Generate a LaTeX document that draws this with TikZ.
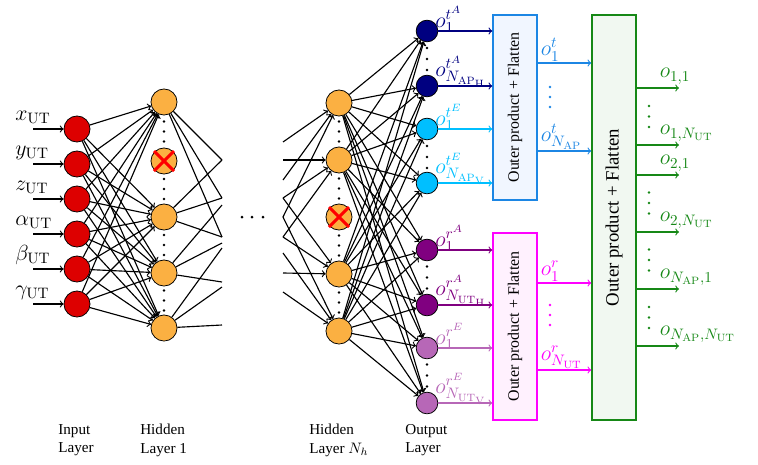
\documentclass[tikz,border=0pt]{standalone}
\usepackage[no-math]{fontspec}
\setmainfont{Liberation Serif}
\usetikzlibrary{calc}

\definecolor{inred}{RGB}{221,0,0}
\definecolor{hidorange}{RGB}{251,176,66}
\definecolor{tAcol}{RGB}{0,0,128}
\definecolor{tEcol}{RGB}{0,191,255}
\definecolor{rAcol}{RGB}{128,0,128}
\definecolor{rEcol}{RGB}{183,103,183}
\definecolor{tbox}{RGB}{28,134,228}
\definecolor{tboxfill}{RGB}{241,246,255}
\definecolor{rbox}{RGB}{255,0,255}
\definecolor{rboxfill}{RGB}{255,241,254}
\definecolor{gbox}{RGB}{22,136,22}
\definecolor{gboxfill}{RGB}{241,248,241}

\newcommand{\lblsize}{\fontsize{13.8}{16}\selectfont}

\begin{document}
\begin{tikzpicture}[x=0.66pt, y=-0.66pt,
    every node/.style={align=center},
    neuron/.style={circle, draw, line width=0.5pt, minimum size=17.2pt, inner sep=0pt},
    outneuron/.style={circle, draw, line width=0.5pt, minimum size=14.3pt, inner sep=0pt},
    link/.style={->, line width=0.75pt},
    stub/.style={line width=0.75pt},
    flatbox/.style={draw, line width=1pt, minimum width=29pt, inner sep=0pt},
    dropx/.style={red, line width=2pt},
    olabel/.style={anchor=south west, inner sep=0pt}]
    \useasboundingbox (0,0) rectangle (758,464);

    % Input layer
    \node[neuron, fill=inred] (in1) at (77,129) {};
    \node[neuron, fill=inred] (in2) at (77,164) {};
    \node[neuron, fill=inred] (in3) at (77,199) {};
    \node[neuron, fill=inred] (in4) at (77,234) {};
    \node[neuron, fill=inred] (in5) at (77,269) {};
    \node[neuron, fill=inred] (in6) at (77,304) {};

    % Inputs and their labels
    \foreach \i/\yy/\lab in {1/129/x, 2/164/y, 3/199/z, 4/234/\alpha, 5/269/\beta, 6/304/\gamma} {
        \coordinate (src\i) at (33,\yy);
        \draw[link] (src\i) -- (in\i);
        \node[anchor=base west, inner sep=0pt] (inlab\i) at (15,\yy-9) {\lblsize $\lab_{\mathrm{UT}}$};
    }

    % Hidden layer 1 (second neuron dropped)
    \node[neuron, fill=hidorange] (hA1) at (164,102) {};
    \node[neuron, fill=hidorange] (hA2) at (164,161) {};
    \node[neuron, fill=hidorange] (hA3) at (164,217) {};
    \node[neuron, fill=hidorange] (hA4) at (164,273) {};
    \node[neuron, fill=hidorange] (hA5) at (164,328) {};

    % Hidden layer N_h (third neuron dropped)
    \node[neuron, fill=hidorange] (hN1) at (339,103) {};
    \node[neuron, fill=hidorange] (hN2) at (339,160) {};
    \node[neuron, fill=hidorange] (hN3) at (339,217) {};
    \node[neuron, fill=hidorange] (hN4) at (339,274) {};
    \node[neuron, fill=hidorange] (hN5) at (339,331) {};

    % Output layer
    \node[outneuron, fill=tAcol] (otA1) at (427,31) {};
    \node[outneuron, fill=tAcol] (otAN) at (427,86) {};
    \node[outneuron, fill=tEcol] (otE1) at (427,129) {};
    \node[outneuron, fill=tEcol] (otEN) at (427,183) {};
    \node[outneuron, fill=rAcol] (orA1) at (427,250) {};
    \node[outneuron, fill=rAcol] (orAN) at (427,305) {};
    \node[outneuron, fill=rEcol] (orE1) at (427,348) {};
    \node[outneuron, fill=rEcol] (orEN) at (427,403) {};

    % Output labels
    \node[olabel, text=tAcol] at ($(otA1)+(8,2)$) {\lblsize $o_1^{t^A}$};
    \node[olabel, text=tAcol] at ($(otAN)+(8,2)$) {\lblsize $o_{N_{\mathrm{AP}_\mathrm{H}}}^{t^A}$};
    \node[olabel, text=tEcol] at ($(otE1)+(8,2)$) {\lblsize $o_1^{t^E}$};
    \node[olabel, text=tEcol] at ($(otEN)+(8,2)$) {\lblsize $o_{N_{\mathrm{AP}_\mathrm{V}}}^{t^E}$};
    \node[olabel, text=rAcol] at ($(orA1)+(8,2)$) {\lblsize $o_1^{r^A}$};
    \node[olabel, text=rAcol] at ($(orAN)+(8,2)$) {\lblsize $o_{N_{\mathrm{UT}_\mathrm{H}}}^{r^A}$};
    \node[olabel, text=rEcol] at ($(orE1)+(8,2)$) {\lblsize $o_1^{r^E}$};
    \node[olabel, text=rEcol] at ($(orEN)+(8,2)$) {\lblsize $o_{N_{\mathrm{UT}_\mathrm{V}}}^{r^E}$};

    % Input -> hidden layer 1
    \foreach \i in {1,...,6}
        \foreach \j in {1,3,4,5}
            \draw[link] (in\i) -- (hA\j);

    % Hidden layer 1 -> next layer (cut off)
    \foreach \j/\a/\b/\c in {1/160/198/237, 3/160/198/237, 4/205/243/282, 5/248/287/325} {
        \draw[stub] (hA\j) -- (222,\a);
        \draw[stub] (hA\j) -- (222,\b);
        \draw[stub] (hA\j) -- (222,\c);
    }

    % Previous layer -> hidden layer N_h (cut off)
    \foreach \j/\a/\b/\c in {1/142/180/217, 2/160/198/237, 4/198/237/273, 5/217/253/292} {
        \draw[link] (283,\a) -- (hN\j);
        \draw[link] (283,\b) -- (hN\j);
        \draw[link] (283,\c) -- (hN\j);
    }

    % Hidden layer N_h -> output layer
    \foreach \j in {1,2,4,5}
        \foreach \o in {otA1,otAN,otE1,otEN,orA1,orAN,orE1,orEN}
            \draw[link] (hN\j) -- (\o);

    % Dropout crosses
    \draw[dropx] (hA2.center) ++(-10,-10) -- ++(20,20) ++(-20,0) -- ++(20,-20);
    \draw[dropx] (hN3.center) ++(-10,-10) -- ++(20,20) ++(-20,0) -- ++(20,-20);

    % Vertical dots
    \foreach \yy in {131.5,189,245,300.5}
        \foreach \d in {-10,0,10}
            \fill (164,\yy+\d) circle[radius=1.4];
    \foreach \yy in {131.5,188.5,245.5,302.5}
        \foreach \d in {-10,0,10}
            \fill (339,\yy+\d) circle[radius=1.4];
    \foreach \yy in {59,157,277.5,375.5}
        \foreach \d in {-11,0,11}
            \fill (427,\yy+\d) circle[radius=1.4];
    \foreach \xx in {242,252,263}
        \fill (\xx,217) circle[radius=1.5];

    % Outer product + flatten boxes
    \node[flatbox, draw=tbox, fill=tboxfill, minimum height=122.1pt] (tflat) at (515,107.5) {\rotatebox{90}{\fontsize{10.5}{12}\selectfont Outer product + Flatten}};
    \node[flatbox, draw=rbox, fill=rboxfill, minimum height=123.4pt] (rflat) at (515,326.5) {\rotatebox{90}{\fontsize{10.5}{12}\selectfont Outer product + Flatten}};
    \node[flatbox, draw=gbox, fill=gboxfill, minimum height=267.3pt] (gflat) at (614,217.5) {\rotatebox{90}{\fontsize{12.4}{14}\selectfont Outer product + Flatten}};

    % Output layer -> boxes
    \foreach \o in {otA1,otAN} \draw[link, tAcol] (\o) -- (\o -| tflat.west);
    \foreach \o in {otE1,otEN} \draw[link, tEcol] (\o) -- (\o -| tflat.west);
    \foreach \o in {orA1,orAN} \draw[link, rAcol] (\o) -- (\o -| rflat.west);
    \foreach \o in {orE1,orEN} \draw[link, rEcol] (\o) -- (\o -| rflat.west);

    % Boxes -> final box
    \coordinate (tout1) at (537,63);
    \coordinate (toutN) at (537,151);
    \coordinate (rout1) at (537,283);
    \coordinate (routN) at (537,370);
    \draw[link, tbox] (tout1) -- (tout1 -| gflat.west);
    \draw[link, tbox] (toutN) -- (toutN -| gflat.west);
    \draw[link, rbox] (rout1) -- (rout1 -| gflat.west);
    \draw[link, rbox] (routN) -- (routN -| gflat.west);
    \node[olabel, inner sep=1pt, text=tbox] at ($(tout1)+(2,0)$) {\lblsize $o_1^t$};
    \node[olabel, inner sep=1pt, text=tbox] at ($(toutN)+(2,0)$) {\lblsize $o_{N_{\mathrm{AP}}}^t$};
    \node[olabel, inner sep=1pt, text=rbox] at ($(rout1)+(2,0)$) {\lblsize $o_1^r$};
    \node[olabel, inner sep=1pt, text=rbox] at ($(routN)+(2,0)$) {\lblsize $o_{N_{\mathrm{UT}}}^r$};
    \foreach \d in {-10,0,10}
        \fill[tbox] (550,97+\d) circle[radius=1.4];
    \foreach \d in {-10,0,10}
        \fill[rbox] (550,315+\d) circle[radius=1.4];

    % Final outputs
    \foreach \i/\yy/\lab in {1/88/{1,1}, 2/145/{1,N_{\mathrm{UT}}}, 3/175/{2,1}, 4/232/{2,N_{\mathrm{UT}}}, 5/289/{N_{\mathrm{AP}},1}, 6/346/{N_{\mathrm{AP}},N_{\mathrm{UT}}}} {
        \coordinate (fin\i) at (636,\yy);
        \draw[link, gbox] (fin\i) -- ++(43,0);
        \node[olabel, inner sep=1pt, text=gbox] at ($(fin\i)+(22,-2)$) {\lblsize $o_{\lab}$};
    }
    \foreach \yy in {116.5,203,260,317.5}
        \foreach \d in {-10.5,0,10.5}
            \fill[gbox] (649,\yy+\d) circle[radius=1.4];

    % Layer names
    \node[anchor=north west, align=left, inner sep=0pt] (inname) at (58,424) {Input\\Layer};
    \node[anchor=north west, align=left, inner sep=0pt] (hAname) at (140,424) {Hidden\\Layer 1};
    \node[anchor=north west, align=left, inner sep=0pt] (hNname) at (309,424) {Hidden\\Layer $N_h$};
    \node[anchor=north west, align=left, inner sep=0pt] (outname) at (405,424) {Output\\Layer};
\end{tikzpicture}
\end{document}
